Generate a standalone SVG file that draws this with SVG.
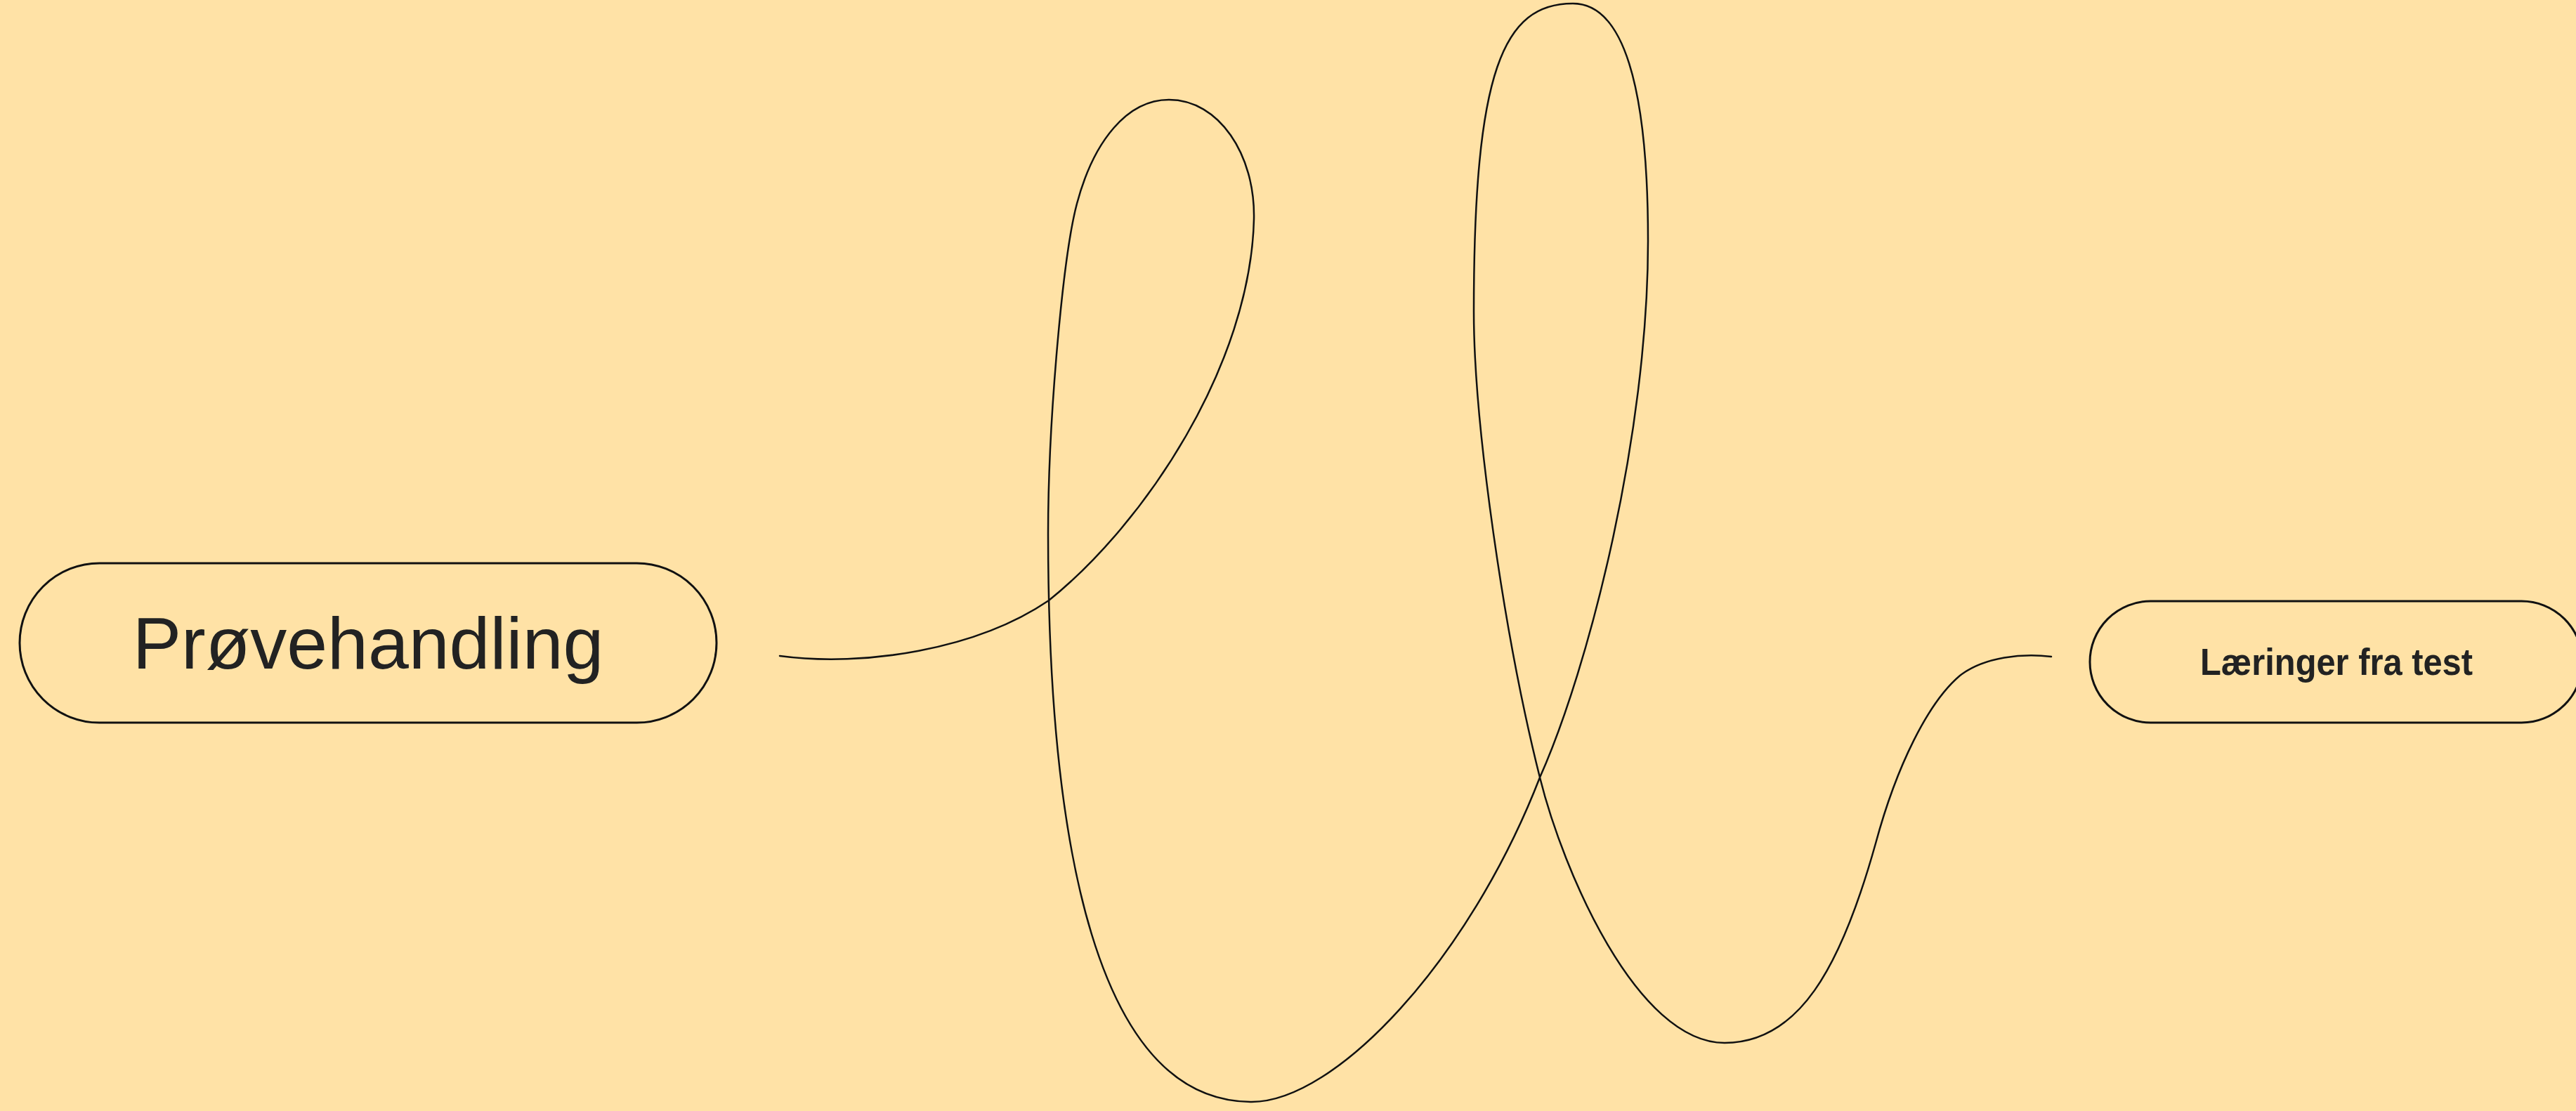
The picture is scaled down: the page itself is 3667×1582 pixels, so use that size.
<svg xmlns="http://www.w3.org/2000/svg" width="3667" height="1582" viewBox="0 0 3667 1582">
<style>
.node rect{fill:#FFE2A6;stroke:#111;stroke-width:3}
.label{font-family:"Liberation Sans",Arial,sans-serif;fill:#222;text-anchor:middle}
.conn{fill:none;stroke:#111;stroke-width:2.5;stroke-linecap:round}
</style>
<rect x="0" y="0" width="3667" height="1582" fill="#FFE2A6"/>
<g id="node-provehandling" class="node">
<rect x="28" y="802" width="992" height="227" rx="113.5" ry="113.5"/>
<text class="label" x="524" y="952" font-size="104">Prøvehandling</text>
</g>
<g id="node-laeringer" class="node">
<rect x="2975" y="856" width="701" height="173" rx="86.5" ry="86.5"/>
<text class="label" x="3326" y="961" font-size="54" font-weight="bold" textLength="388" lengthAdjust="spacingAndGlyphs">Læringer fra test</text>
</g>
<g id="connectors">
<path class="conn" d="M1110,934 C1230,950 1390,925 1493,855 C1630,745 1780,520 1785,312 C1787,220 1735,142 1664,142 C1605,142 1557,200 1533,290 C1513,365 1492,600 1492,760 C1492,1200 1560,1569 1782,1569 C1900,1569 2090,1370 2192,1107 C2262,950 2346,620 2346,343 C2346,120 2310,5 2239,5 C2140,5 2098,100 2098,444 C2098,600 2140,900 2192,1107 C2225,1240 2330,1485 2455,1485 C2560,1485 2620,1380 2670,1201 C2700,1090 2745,1000 2790,962 C2825,935 2880,930 2920,935"/>
</g>
</svg>
